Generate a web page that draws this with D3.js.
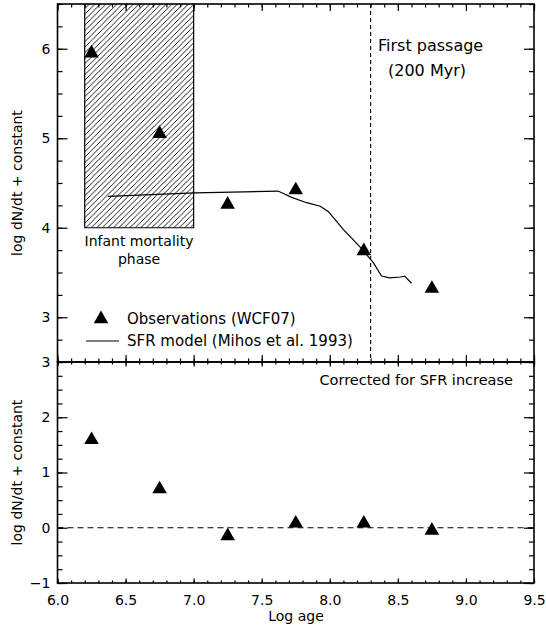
<!DOCTYPE html>
<html><head><meta charset="utf-8">
<script src="https://cdn.jsdelivr.net/npm/d3@7"></script>
<style>body{margin:0;background:#fff}svg{display:block}text{font-family:"DejaVu Sans",sans-serif;fill:#000}</style>
</head><body>
<script>
// ---- data ----
const obsAge = [6.25, 6.75, 7.25, 7.75, 8.25, 8.75];
const obsTop = [5.95, 5.05, 4.26, 4.42, 3.74, 3.32];
const obsCorrected = [1.59, 0.70, -0.15, 0.08, 0.08, -0.05];
const sfrAge = [6.37, 7.01, 7.62, 7.72, 7.83, 7.93, 7.99, 8.05, 8.10, 8.15, 8.22, 8.27, 8.32, 8.38, 8.44, 8.52, 8.55, 8.60];
const sfrVal = [4.35, 4.39, 4.41, 4.34, 4.28, 4.24, 4.18, 4.07, 3.98, 3.90, 3.79, 3.70, 3.61, 3.46, 3.44, 3.45, 3.46, 3.38];
const xTicks = [6.0, 6.5, 7.0, 7.5, 8.0, 8.5, 9.0, 9.5];
const yTopTicks = [3, 4, 5, 6];
const yBotTicks = [-1, 0, 1, 2, 3];
const infantRange = [6.2, 7.0];
const infantFloor = 4.0;
const firstPassage = 8.3;

const W = 546, H = 626;
const svg = d3.select("body").append("svg").attr("width", W).attr("height", H);

const x = d3.scaleLinear().domain([6, 9.5]).range([57.5, 534]);
const yT = d3.scaleLinear().domain([2.5, 6.5]).range([362, 4]);
const yB = d3.scaleLinear().domain([-1, 3]).range([583, 362]);

const defs = svg.append("defs");
const pat = defs.append("pattern").attr("id", "hatch").attr("patternUnits", "userSpaceOnUse")
  .attr("width", 5.5).attr("height", 5.5);
pat.append("path").attr("d", "M-1,1 L1,-1 M0,5.5 L5.5,0 M4.5,6.5 L6.5,4.5")
  .attr("stroke", "#000").attr("stroke-width", 0.9);

const xMinor = d3.range(60, 96).map(d => d / 10);
const yTopMinor = d3.range(10, 27).map(d => d / 4);
const yBotMinor = d3.range(-4, 13).map(d => d / 4);

function axes(y, yMaj, yMin, xMajLen, xMinLen, xLabels) {
  const [y0, y1] = y.range();
  const g = svg.append("g");
  g.append("g").attr("transform", `translate(${x.range()[0]},0)`)
    .call(d3.axisLeft(y).tickValues(yMin).tickSize(-5).tickFormat("").tickSizeOuter(0));
  g.append("g").attr("transform", `translate(${x.range()[0]},0)`)
    .call(d3.axisLeft(y).tickValues(yMaj).tickSize(-10).tickPadding(7).tickSizeOuter(0)
      .tickFormat(d => d < 0 ? "\u2212" + Math.abs(d) : d));
  g.append("g").attr("transform", `translate(${x.range()[1]},0)`)
    .call(d3.axisRight(y).tickValues(yMin).tickSize(-5).tickFormat("").tickSizeOuter(0));
  g.append("g").attr("transform", `translate(${x.range()[1]},0)`)
    .call(d3.axisRight(y).tickValues(yMaj).tickSize(-10).tickFormat("").tickSizeOuter(0));
  g.append("g").attr("transform", `translate(0,${y0})`)
    .call(d3.axisBottom(x).tickValues(xMinor).tickSize(-xMinLen).tickFormat("").tickSizeOuter(0));
  g.append("g").attr("transform", `translate(0,${y0})`)
    .call(d3.axisBottom(x).tickValues(xTicks).tickSize(-xMajLen).tickPadding(12).tickSizeOuter(0)
      .tickFormat(xLabels ? d3.format(".1f") : ""));
  g.append("g").attr("transform", `translate(0,${y1})`)
    .call(d3.axisTop(x).tickValues(xMinor).tickSize(-xMinLen).tickFormat("").tickSizeOuter(0));
  g.append("g").attr("transform", `translate(0,${y1})`)
    .call(d3.axisTop(x).tickValues(xTicks).tickSize(-xMajLen).tickFormat("").tickSizeOuter(0));
  g.selectAll(".domain").remove();
  g.selectAll(".tick line").attr("stroke", "#000").attr("stroke-width", 1.2);
  g.selectAll(".tick text").attr("font-size", 14).attr("font-family", "DejaVu Sans");
  g.append("rect").attr("x", x.range()[0]).attr("y", y1).attr("width", x.range()[1] - x.range()[0])
    .attr("height", y0 - y1).attr("fill", "none").attr("stroke", "#000").attr("stroke-width", 1.6);
}

// ---- top panel ----
svg.append("rect").attr("x", x(infantRange[0])).attr("y", yT(6.5))
  .attr("width", x(infantRange[1]) - x(infantRange[0])).attr("height", yT(infantFloor) - yT(6.5))
  .attr("fill", "url(#hatch)");
svg.append("path").attr("d", `M${x(infantRange[0])},${yT(6.5)}V${yT(infantFloor)}H${x(infantRange[1])}V${yT(6.5)}`)
  .attr("fill", "none").attr("stroke", "#000").attr("stroke-width", 1.2);

svg.append("line").attr("x1", x(firstPassage)).attr("x2", x(firstPassage))
  .attr("y1", yT(6.5)).attr("y2", yT(2.5)).attr("stroke", "#000").attr("stroke-width", 1.1)
  .attr("stroke-dasharray", "4,3");

const sfr = sfrAge.map((a, i) => [a, sfrVal[i]]);
svg.append("path").attr("d", d3.line().x(d => x(d[0])).y(d => yT(d[1]))(sfr))
  .attr("fill", "none").attr("stroke", "#000").attr("stroke-width", 1.2);

const tri = d3.symbol(d3.symbolTriangle).size(92);
svg.selectAll(".tt").data(obsAge).enter().append("path")
  .attr("d", tri).attr("transform", (d, i) => `translate(${x(d)},${yT(obsTop[i])})`).attr("fill", "#000");

axes(yT, yTopTicks, yTopMinor, 7, 3.5, false);

svg.append("text").attr("x", 378).attr("y", 51).attr("font-size", 16).text("First passage");
svg.append("text").attr("x", 427).attr("y", 76).attr("font-size", 16).attr("text-anchor", "middle").text("(200 Myr)");
svg.append("text").attr("x", 139).attr("y", 246).attr("font-size", 14).attr("text-anchor", "middle").text("Infant mortality");
svg.append("text").attr("x", 139).attr("y", 264).attr("font-size", 14).attr("text-anchor", "middle").text("phase");

// legend
svg.append("path").attr("d", tri).attr("transform", "translate(101,319)").attr("fill", "#000");
svg.append("text").attr("x", 127).attr("y", 324).attr("font-size", 15).text("Observations (WCF07)");
svg.append("line").attr("x1", 86).attr("x2", 119).attr("y1", 341).attr("y2", 341).attr("stroke", "#000").attr("stroke-width", 1.2);
svg.append("text").attr("x", 127).attr("y", 346).attr("font-size", 15).text("SFR model (Mihos et al. 1993)");

// ---- bottom panel ----
svg.append("line").attr("x1", x(6)).attr("x2", x(9.5)).attr("y1", yB(0)).attr("y2", yB(0))
  .attr("stroke", "#000").attr("stroke-width", 1.1).attr("stroke-dasharray", "6,4");
svg.selectAll(".tb").data(obsAge).enter().append("path")
  .attr("d", tri).attr("transform", (d, i) => `translate(${x(d)},${yB(obsCorrected[i])})`).attr("fill", "#000");

axes(yB, yBotTicks, yBotMinor, 4.5, 2.5, true);

svg.append("text").attr("x", 513).attr("y", 385).attr("font-size", 14.5).attr("text-anchor", "end").text("Corrected for SFR increase");

// axis titles
svg.append("text").attr("x", 296).attr("y", 621).attr("font-size", 14).attr("text-anchor", "middle").text("Log age");
svg.append("text").attr("transform", `translate(22,${(yT(6.5) + yT(2.5)) / 2}) rotate(-90)`)
  .attr("font-size", 14).attr("text-anchor", "middle").text("log dN/dt + constant");
svg.append("text").attr("transform", `translate(22,${(yB(3) + yB(-1)) / 2}) rotate(-90)`)
  .attr("font-size", 14).attr("text-anchor", "middle").text("log dN/dt + constant");
</script>
</body></html>
